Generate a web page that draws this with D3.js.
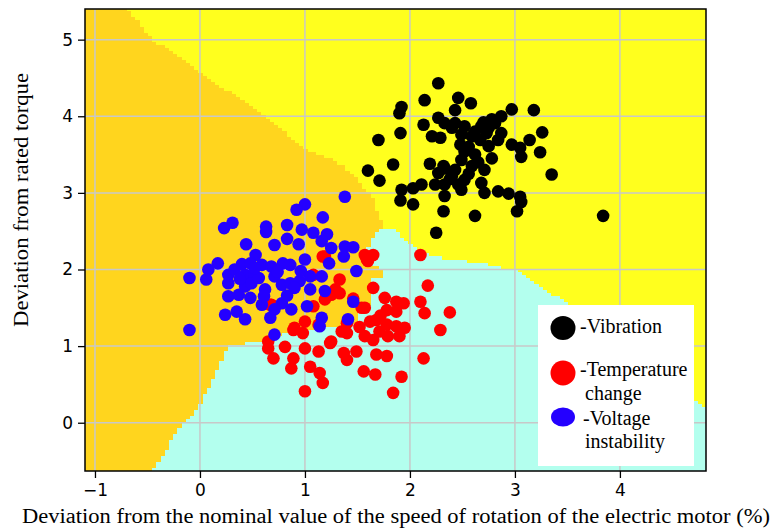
<!DOCTYPE html>
<html>
<head>
<meta charset="utf-8">
<script src="https://cdn.jsdelivr.net/npm/d3@7"></script>
<style>
  body { margin: 0; background: #fff; }
  svg { display: block; }
</style>
</head>
<body>
<svg id="chart" width="773" height="528"></svg>
<script>
// ---- data (x = speed deviation %, y = torque deviation) ----
const vibration = [[2.27,4.43],[2.46,4.24],[2.14,4.21],[2.58,4.17],[1.92,4.12],[1.90,4.04],[2.43,4.08],[2.97,4.09],
  [3.18,4.08],[2.87,4.00],[2.78,3.96],[2.27,3.98],[2.13,3.89],[2.33,3.91],[2.43,3.91],[2.52,3.87],[2.68,3.87],
  [2.81,3.91],[2.75,3.85],[2.62,3.80],[1.91,3.78],[1.70,3.69],[2.21,3.74],[2.29,3.72],[2.49,3.76],[2.59,3.74],
  [2.67,3.69],[2.84,3.69],[2.97,3.63],[3.05,3.59],[3.14,3.69],[3.26,3.79],[3.24,3.53],[3.06,3.47],[2.48,3.63],
  [2.75,3.61],[2.62,3.50],[2.49,3.43],[2.78,3.45],[2.19,3.38],[1.84,3.37],[1.60,3.29],[1.71,3.16],[3.35,3.24],
  [2.33,3.32],[2.43,3.30],[2.27,3.26],[2.52,3.17],[2.71,3.30],[2.68,3.13],[2.40,3.22],[2.46,3.11],[2.11,3.11],
  [2.03,3.06],[1.92,3.04],[1.91,2.90],[2.03,2.85],[2.24,3.11],[2.33,3.11],[2.49,3.04],[2.71,3.00],[2.84,3.02],
  [2.94,2.99],[3.05,2.95],[3.06,2.88],[3.02,2.76],[2.33,2.96],[2.32,2.76],[2.62,2.70],[2.25,2.48],[3.84,2.70],
  [2.73,3.78],[2.40,3.85],[2.59,3.35],[2.87,3.78],[2.32,3.35],[2.52,3.54],[2.56,3.60],[2.65,3.40],[2.38,3.18],
  [2.70,3.92],[2.56,3.25]];

const temperature = [[1.65,2.19],[1.59,2.13],[2.10,2.19],[1.33,1.87],[1.65,1.76],[1.76,1.63],[1.87,1.58],[1.94,1.56],
  [2.10,1.58],[2.17,1.79],[2.14,1.43],[2.29,1.21],[1.57,1.50],[1.78,1.47],[1.87,1.45],[1.62,1.32],[1.68,1.34],
  [1.78,1.28],[1.87,1.26],[1.95,1.24],[1.71,1.19],[1.79,1.13],[1.90,1.13],[1.57,1.13],[1.40,1.17],[1.40,1.30],
  [1.33,1.69],[1.29,1.74],[1.19,1.61],[1.08,1.52],[0.67,1.54],[0.89,1.21],[1.00,1.32],[0.98,1.17],[1.13,1.28],
  [1.24,1.04],[1.13,0.93],[1.00,0.97],[0.81,0.99],[0.65,0.97],[0.70,0.84],[0.89,0.84],[0.87,0.71],[1.05,0.73],
  [1.14,0.65],[1.17,0.52],[1.00,0.41],[1.37,0.91],[1.49,0.93],[1.40,0.82],[1.56,0.67],[1.67,0.63],[1.68,0.89],
  [1.78,0.87],[1.92,0.60],[2.13,0.84],[1.84,0.39],[1.65,1.08],[1.17,2.17],[1.19,2.17],[1.57,2.19],[1.60,2.11],
  [1.25,1.67],[1.08,1.93],[0.68,1.54],[0.90,1.24],[1.35,1.19],[1.54,1.50],[1.25,1.06],[0.65,1.06],[2.38,1.44],
  [1.46,1.62],[1.72,1.40],[1.52,1.25]];

const voltage = [[1.38,2.95],[1.00,2.85],[0.92,2.78],[1.17,2.68],[0.31,2.61],[0.23,2.54],[0.63,2.56],[0.63,2.49],
  [0.83,2.58],[0.97,2.52],[1.08,2.48],[1.21,2.46],[0.83,2.40],[0.71,2.32],[0.44,2.33],[0.94,2.33],[1.16,2.37],
  [1.25,2.28],[1.38,2.30],[1.46,2.29],[1.37,2.17],[0.53,2.19],[1.00,2.13],[1.23,2.08],[1.49,1.98],[0.17,2.08],
  [0.08,2.00],[0.40,2.07],[0.48,2.08],[0.59,2.06],[0.68,2.04],[0.79,2.08],[0.86,2.06],[-0.10,1.89],[0.06,1.87],
  [0.27,1.93],[0.27,1.82],[0.43,1.93],[0.52,1.93],[0.71,1.91],[0.43,1.78],[0.49,1.82],[0.62,1.74],[0.78,1.80],
  [0.86,1.82],[0.95,1.85],[1.05,1.91],[1.16,1.91],[0.90,1.76],[1.05,1.74],[1.19,1.72],[0.27,1.65],[0.37,1.67],
  [0.48,1.63],[0.59,1.54],[0.78,1.56],[0.67,1.37],[0.24,1.41],[0.35,1.45],[0.43,1.35],[0.71,1.48],[0.87,1.48],
  [1.02,1.52],[1.16,1.37],[1.14,1.26],[1.46,1.58],[1.41,1.35],[0.71,1.15],[-0.10,1.21],[0.56,1.89],[0.33,2.00],
  [0.52,2.02],[0.74,1.97],[0.96,1.98],[0.61,1.65],[0.83,1.66],[0.38,1.88]];

// decision region edges (data units)
const orangeYellowEdge = [[-0.695,5.6],[-0.695,5.40],[-0.448,5.00],[0.0,4.57],[0.638,3.99],[1.0,3.56],[1.362,3.37],
  [1.533,3.13],[1.648,2.91],[1.714,2.69],[1.743,2.546]];
const orangeCyanEdge = [[1.743,2.546],[1.638,2.415],[1.590,2.258],[1.590,2.050],[1.762,2.023],[1.762,1.919],
  [1.619,1.880],[1.638,1.540],[1.524,1.475],[1.505,1.279],[1.238,1.240],[0.857,1.188],[0.619,1.044],[0.267,1.018],
  [0.210,0.822],[0.095,0.496],[-0.029,0.170],[-0.190,-0.052],[-0.448,-0.627],[-0.448,-0.8]];
const cyanYellowEdge = [[1.743,2.546],[1.838,2.533],[2.0,2.324],[2.219,2.167],[2.667,2.089],[3.0,1.997],[3.267,1.736],
  [3.495,1.567],[3.81,1.28],[4.19,0.89],[4.57,0.50],[4.714,0.326],[4.819,0.17],[5.0,0.0]];

const xTicks = [-1, 0, 1, 2, 3, 4];
const yTicks = [0, 1, 2, 3, 4, 5];
const legendLabels = [["-Vibration"], ["-Temperature", "change"], ["-Voltage", "instability"]];

const colors = { yellow: "#ffff1e", orange: "#ffd51e", cyan: "#b3ffee" };
const dotColors = ["#000000", "#ff0000", "#2400ff"];

// ---- layout ----
const svg = d3.select("#chart");
const mLeft = 85, mRight = 706, mTop = 9, mBottom = 471;

const x = d3.scaleLinear().domain([-1.095, 4.82]).range([mLeft, mRight]);
const y = d3.scaleLinear().domain([-0.63, 5.40]).range([mBottom, mTop]);

svg.append("clipPath").attr("id", "plotclip")
  .append("rect").attr("x", mLeft).attr("y", mTop).attr("width", mRight - mLeft).attr("height", mBottom - mTop);

const plot = svg.append("g").attr("clip-path", "url(#plotclip)");

// polygons for the two coloured regions, yellow is the background
const orangePoly = [[-1.3, 5.6]].concat(orangeYellowEdge, orangeCyanEdge.slice(1), [[-1.3, -0.8]]);
const cyanPoly = orangeCyanEdge.concat([[5.0, -0.8]], cyanYellowEdge.slice().reverse().slice(0, -1));

plot.append("rect").attr("x", mLeft).attr("y", mTop).attr("width", mRight - mLeft).attr("height", mBottom - mTop)
  .attr("fill", colors.yellow);

// mesh like the classifier plot: cells, merged into runs per row
const step = 0.04;
const x0 = x.domain()[0], y0 = y.domain()[0];
const nx = Math.ceil((x.domain()[1] - x0) / step), ny = Math.ceil((y.domain()[1] - y0) / step);
const cells = [];
for (let j = 0; j < ny; j++) {
  const cy = y0 + (j + 0.5) * step;
  let cur = null, start = 0;
  for (let i = 0; i <= nx; i++) {
    let cls = null;
    if (i < nx) {
      const cx = x0 + (i + 0.5) * step;
      if (d3.polygonContains(orangePoly, [cx, cy])) cls = "orange";
      else if (d3.polygonContains(cyanPoly, [cx, cy])) cls = "cyan";
    }
    if (cls !== cur) {
      if (cur) cells.push({ cls: cur, i0: start, i1: i, j: j });
      cur = cls; start = i;
    }
  }
}

plot.selectAll("rect.cell")
  .data(cells)
  .enter()
  .append("rect")
  .attr("class", "cell")
  .attr("shape-rendering", "crispEdges")
  .attr("x", d => x(x0 + d.i0 * step))
  .attr("width", d => x(x0 + d.i1 * step) - x(x0 + d.i0 * step))
  .attr("y", d => y(y0 + (d.j + 1) * step))
  .attr("height", d => y(y0 + d.j * step) - y(y0 + (d.j + 1) * step))
  .attr("fill", d => colors[d.cls]);

// grid lines
plot.selectAll("line.gx").data(xTicks).enter().append("line")
  .attr("x1", d => x(d)).attr("x2", d => x(d)).attr("y1", mTop).attr("y2", mBottom)
  .attr("stroke", "#c8c8c8").attr("stroke-width", 1.5);
plot.selectAll("line.gy").data(yTicks).enter().append("line")
  .attr("y1", d => y(d)).attr("y2", d => y(d)).attr("x1", mLeft).attr("x2", mRight)
  .attr("stroke", "#c8c8c8").attr("stroke-width", 1.5);

// points
[vibration, temperature, voltage].forEach((pts, k) => {
  plot.append("g").selectAll("circle")
    .data(pts)
    .enter()
    .append("circle")
    .attr("cx", d => x(d[0]))
    .attr("cy", d => y(d[1]))
    .attr("r", 6.3)
    .attr("fill", dotColors[k]);
});

// frame
svg.append("rect").attr("x", mLeft).attr("y", mTop).attr("width", mRight - mLeft).attr("height", mBottom - mTop)
  .attr("fill", "none").attr("stroke", "#000").attr("stroke-width", 1.5);

// axes
const xAxis = svg.append("g").attr("transform", "translate(0," + mBottom + ")")
  .call(d3.axisBottom(x).tickValues(xTicks).tickSize(7).tickPadding(6).tickFormat(d3.format("d")));
const yAxis = svg.append("g").attr("transform", "translate(" + mLeft + ",0)")
  .call(d3.axisLeft(y).tickValues(yTicks).tickSize(7).tickPadding(5).tickFormat(d3.format("d")));
[xAxis, yAxis].forEach(a => {
  a.select(".domain").remove();
  a.selectAll("line").attr("stroke", "#000").attr("stroke-width", 1.3);
  a.selectAll("text").attr("fill", "#000").style("font-family", "'DejaVu Sans', sans-serif").style("font-size", "17px");
});

// axis titles
svg.append("text")
  .attr("x", 396).attr("y", 523)
  .attr("text-anchor", "middle")
  .attr("textLength", 748).attr("lengthAdjust", "spacingAndGlyphs")
  .style("font-family", "'Liberation Serif', 'Times New Roman', serif").style("font-size", "20px")
  .text("Deviation from the nominal value of the speed of rotation of the electric motor (%)");

svg.append("text")
  .attr("transform", "translate(28,200) rotate(-90)")
  .attr("text-anchor", "middle")
  .attr("textLength", 254).attr("lengthAdjust", "spacingAndGlyphs")
  .style("font-family", "'Liberation Serif', 'Times New Roman', serif").style("font-size", "20px")
  .text("Deviation from rated torque");

// legend
const legend = svg.append("g");
legend.append("rect").attr("x", 538).attr("y", 305).attr("width", 156).attr("height", 161).attr("fill", "#fff");

const legendRows = [
  { cy: 328, rx: 12.5, ry: 12, lines: [[580, 333], []] },
  { cy: 373, rx: 12.5, ry: 12.5, lines: [[580, 376], [585, 400]] },
  { cy: 417, rx: 12, ry: 9.5, lines: [[583, 425], [585, 448]] }
];
legendRows.forEach((row, k) => {
  legend.append("ellipse").attr("cx", 563).attr("cy", row.cy).attr("rx", row.rx).attr("ry", row.ry)
    .attr("fill", dotColors[k]);
  legendLabels[k].forEach((txt, m) => {
    legend.append("text")
      .attr("x", row.lines[m][0]).attr("y", row.lines[m][1])
      .style("font-family", "'Liberation Serif', 'Times New Roman', serif").style("font-size", "20px")
      .text(txt);
  });
});
</script>
</body>
</html>
